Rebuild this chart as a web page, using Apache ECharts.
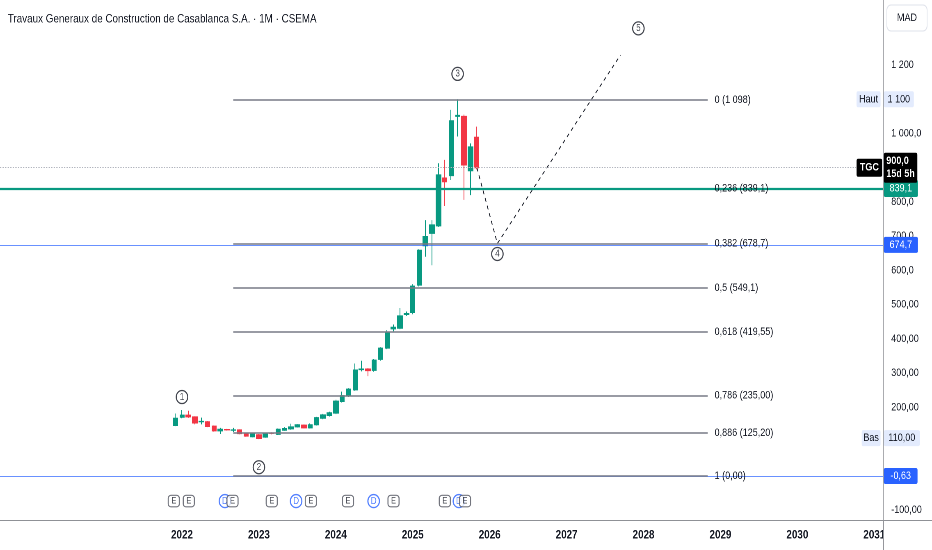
<!DOCTYPE html>
<html><head><meta charset="utf-8">
<script src="https://cdn.jsdelivr.net/npm/echarts@6/dist/echarts.min.js"></script>
<style>
html,body{margin:0;padding:0;background:#fff;overflow:hidden}
#wrap{width:932px;height:550px;overflow:hidden}
#c{width:1136px;height:550px;transform:scaleX(0.82042);transform-origin:0 0}
</style>
</head><body><div id="wrap"><div id="c"></div></div>
<script>
const FONT = "'Liberation Sans',Arial,Roboto,sans-serif";
const TXT = '#131722';
// Monthly candles, x = months since Jan 2022
const candleMonths = [-1,0,1,2,3,4,5,6,7,8,9,10,11,12,13,14,15,16,17,18,19,20,21,22,23,24,25,26,27,28,29,30,31,32,33,34,35,36,37,38,39,40,41,42,43,44,45,46];
const opens  = [147,171,177,172,158,158,145,131,135,133,134,122,114,120,113,125,121,133,137,143,148,140,149,168,176,183,217,236,251,310,312,308,340,373,429,431,471,477,557,672,708,730,870,877,1050,1050,891,989];
const closes = [168,177,172,154,159,144,131,136,134,134,123,116,123,109,124,124,136,138,143,149,140,149,170,178,184,218,234,253,309,312,307,338,373,420,434,467,474,554,659,699,733,879,859,1037,1053,908,961,900];
const lows   = [145,168,169,150,150,142,129,122,132,128,121,114,112,107,111,121,119,131,134,141,138,138,147,165,173,180,214,230,248,305,291,304,336,370,422,428,467,472,553,640,615,727,788,864,991,806,820,895];
const highs  = [182,192,190,174,170,160,147,140,137,140,136,124,125,122,126,127,138,142,152,151,150,153,172,181,187,222,246,256,328,336,315,341,376,426,442,490,480,560,662,747,747,913,923,1069,1100,1055,971,1020];

const yearTickMonths = [0,12,24,36,48,60,72,84,96,108];
const yearTickLabels = ['2022','2023','2024','2025','2026','2027','2028','2029','2030','2031'];
const yTickValues = [1200,1000,800,700,600,500,400,300,200,-100];
const yTickLabels = ['1 200','1 000,0','800,0','700,0','600,0','500,00','400,00','300,00','200,00','-100,00'];

const fibValues = [1098,839.1,678.7,549.1,419.55,235,125.2,0];
const fibLabels = ['0 (1 098)','0,236 (839,1)','0,382 (678,7)','0,5 (549,1)','0,618 (419,55)','0,786 (235,00)','0,886 (125,20)','1 (0,00)'];
const fibStartMonth = 8, fibEndMonth = 82;

const projMonths = [46,49.2,68.4];
const projValues = [900,678.7,1229];

const waveMonths = [0,12,43,49.2,71.2];
const waveValues = [230,25,1174,648,1307];
const waveLabels = ['1','2','3','4','5'];

const earnMonths = [-1.28,1.06,7.88,14.0,20.1,25.9,33.0,41.0,44.15];
const divMonths = [6.7,17.8,29.9,43.2];
const EVENT_ROW = -74;

const lastPrice = 900, greenLevel = 839.1, blueLevel = 674.7, zeroLevel = -0.63, hiLevel = 1100, loLevel = 110;

const X_MIN = -28.39, X_MAX = 109.36, Y_MIN = -129.2, Y_MAX = 1389.9;

// layout (chart is drawn 1136 px wide, then squeezed to 932 px like the reference)
const W = 1136, S = 932 / W;
const GRID_RIGHT = 49 / S, AXIS_X = W - GRID_RIGHT;

const candleData = candleMonths.map((m,i)=>[m,opens[i],closes[i],lows[i],highs[i]]);
const yLabelMap = {}; yTickValues.forEach((v,i)=>yLabelMap[v]=yTickLabels[i]);
const xLabelMap = {}; yearTickMonths.forEach((v,i)=>xLabelMap[v]=yearTickLabels[i]);

const boxLabel = (text, bg, color, extra) => Object.assign({
  show:true, position:'end', distance:1, formatter:text, backgroundColor:bg, color:color, opacity:1,
  padding:[3,7,3,7], fontSize:11, fontFamily:FONT, borderRadius:2
}, extra||{});
const noLine = {color:'rgba(0,0,0,0)', width:0};

const chart = echarts.init(document.getElementById('c'), null, {renderer:'canvas', devicePixelRatio:2});
chart.setOption({
  animation:false,
  backgroundColor:'#ffffff',
  title:{text:'Travaux Generaux de Construction de Casablanca S.A. · 1M · CSEMA', left:4.5, top:8,
    textStyle:{fontSize:12, fontWeight:'normal', color:TXT, fontFamily:FONT}},
  grid:{left:0, right:GRID_RIGHT, top:0, bottom:30},
  xAxis:{type:'value', min:X_MIN, max:X_MAX,
    axisLine:{show:true, onZero:false, lineStyle:{color:'#8f9196'}}, axisTick:{show:false}, splitLine:{show:false},
    axisLabel:{customValues:yearTickMonths, formatter:v=>xLabelMap[v]||'', margin:9, fontSize:12, fontWeight:'bold', color:TXT, fontFamily:FONT, showMinLabel:true, showMaxLabel:true}},
  yAxis:{type:'value', position:'right', min:Y_MIN, max:Y_MAX,
    axisLine:{show:true, onZero:false, lineStyle:{color:'#8f9196'}}, axisTick:{show:false}, splitLine:{show:false},
    axisLabel:{customValues:yTickValues, formatter:v=>yLabelMap[v]||'', margin:10, fontSize:11, color:TXT, fontFamily:FONT, showMinLabel:true, showMaxLabel:true}},
  series:[
    {name:'levels', type:'line', data:[], z:1, silent:true, clip:false,
      markLine:{silent:true, symbol:'none', animation:false,
        data:[
          {yAxis:lastPrice, lineStyle:{color:'#b2b5be', type:'dotted', width:1}, label:{show:false}},
          {yAxis:blueLevel, lineStyle:{color:'#2962ff', type:'solid', width:1, opacity:0.7}, label:boxLabel('674,7','#2962ff','#ffffff',{padding:[3,7,2,7]})},
          {yAxis:zeroLevel, lineStyle:{color:'#2962ff', type:'solid', width:1, opacity:0.7}, label:boxLabel('-0,63','#2962ff','#ffffff',{padding:[3,8,2,8]})}
        ]}},
    {name:'fib', type:'line', data:[], z:2, silent:true, clip:false,
      markLine:{silent:true, symbol:'none', animation:false,
        data:fibValues.map((v,i)=>[
          {coord:[fibStartMonth,v], lineStyle:{color:'#787b86', width:1.5, type:'solid'},
            label:{show:true, position:'end', distance:8.5, formatter:fibLabels[i], color:TXT, fontSize:11, fontFamily:FONT}},
          {coord:[fibEndMonth,v]}
        ])}},
    {name:'TGC', type:'candlestick', data:candleData, encode:{x:0, y:[1,2,3,4]}, barWidth:6, z:3,
      itemStyle:{color:'#089981', color0:'#f23645', borderColor:'#089981', borderColor0:'#f23645', borderWidth:1}},
    {name:'projection', type:'line', data:projMonths.map((m,i)=>[m,projValues[i]]), symbol:'none', z:3, silent:true,
      lineStyle:{color:TXT, width:1, type:[4,4]}},
    {name:'green', type:'line', data:[], z:4, silent:true, clip:false,
      markLine:{silent:true, symbol:'none', animation:false,
        data:[{yAxis:greenLevel, lineStyle:{color:'#089981', width:2.2, type:'solid'}, label:boxLabel('839,1','#089981','#ffffff')}]}},
    {name:'waves', type:'scatter', z:5, silent:true,
      data:waveMonths.map((m,i)=>[m,waveValues[i],waveLabels[i]]),
      symbol:'circle', symbolSize:[14,13],
      itemStyle:{color:'#ffffff', borderColor:TXT, borderWidth:1.3},
      label:{show:true, position:'inside', formatter:p=>p.value[2], fontSize:10, color:TXT, fontFamily:FONT}},
    {name:'dividends', type:'scatter', z:5, silent:true,
      data:divMonths.map(m=>[m,EVENT_ROW]), symbol:'circle', symbolSize:[14,13],
      itemStyle:{color:'#ffffff', borderColor:'#2962ff', borderWidth:1.4},
      label:{show:true, position:'inside', formatter:'D', fontSize:10, color:'#2962ff', fontFamily:FONT}},
    {name:'earnings', type:'scatter', z:6, silent:true,
      data:earnMonths.map(m=>[m,EVENT_ROW]), symbol:'roundRect', symbolSize:[13.5,11.5],
      itemStyle:{color:'#ffffff', borderColor:'#50535e', borderWidth:1.2},
      label:{show:true, position:'inside', formatter:'E', fontSize:9, color:TXT, fontFamily:FONT}},
    {name:'axisBoxes', type:'line', data:[], z:8, silent:true, clip:false,
      markLine:{silent:true, symbol:'none', animation:false,
        data:[
          {yAxis:lastPrice, lineStyle:noLine, label:boxLabel('900,0\n15d 5h','#000000','#ffffff',{lineHeight:13, padding:[2,3,2,3], fontWeight:'bold'})},
          {yAxis:lastPrice, lineStyle:noLine, label:boxLabel('TGC','#000000','#ffffff',{position:'insideEnd', distance:1, padding:[4,4,3,4], fontWeight:'bold'})},
          {yAxis:hiLevel, lineStyle:noLine, label:boxLabel('1 100','#e3ebfd',TXT,{padding:[3,4.5,2,4.5]})},
          {yAxis:hiLevel, lineStyle:noLine, label:boxLabel('Haut','#e3ebfd',TXT,{position:'insideEnd', distance:3, padding:[3,3,2,3]})},
          {yAxis:loLevel, lineStyle:noLine, label:boxLabel('110,00','#e3ebfd',TXT,{padding:[3,5.5,2,5.5]})},
          {yAxis:loLevel, lineStyle:noLine, label:boxLabel('Bas','#e3ebfd',TXT,{position:'insideEnd', distance:3, padding:[3,2,2,2]})}
        ]}}
  ],
  graphic:[
    {type:'rect', z:100, shape:{x:AXIS_X+0.6, y:521, width:GRID_RIGHT, height:29}, style:{fill:'#ffffff'}},
    {type:'line', z:101, shape:{x1:AXIS_X+0.5, y1:520, x2:AXIS_X+0.5, y2:550}, style:{stroke:'#8f9196', lineWidth:1.2}},
    {type:'line', z:101, shape:{x1:AXIS_X, y1:520.5, x2:W, y2:520.5}, style:{stroke:'#8f9196', lineWidth:1}},
    {type:'rect', z:101, shape:{x:1081, y:5, width:49, height:26, r:5}, style:{fill:'#ffffff', stroke:'#e0e3eb', lineWidth:1}},
    {type:'text', z:102, x:1105.5, y:18, style:{text:'MAD', fill:TXT, fontSize:11, fontFamily:FONT, align:'center', verticalAlign:'middle'}}
  ]
});
</script>
</body></html>
